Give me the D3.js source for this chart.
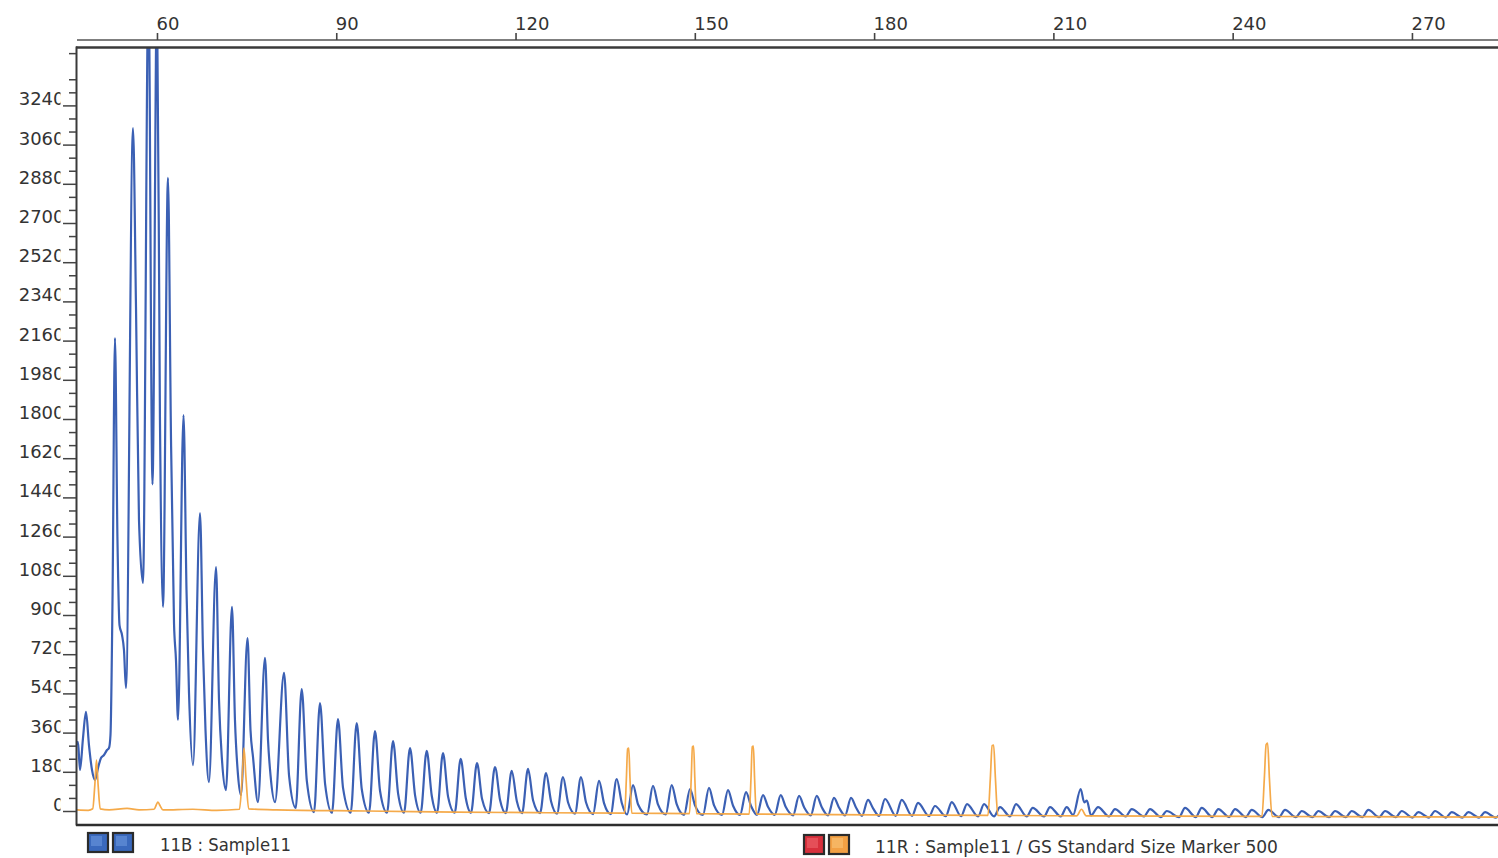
<!DOCTYPE html>
<html>
<head>
<meta charset="utf-8">
<script src="https://cdn.jsdelivr.net/npm/d3@7"></script>
<style>
  body { margin: 0; background: #fff; }
  svg { display: block; }
</style>
</head>
<body>
<svg id="chart" width="1498" height="858"></svg>
<script>
// Size axis (bp) and RFU ticks
const xTicks = [60, 90, 120, 150, 180, 210, 240, 270];
const yTicks = [0, 180, 360, 540, 720, 900, 1080, 1260, 1440, 1620, 1800, 1980, 2160, 2340, 2520, 2700, 2880, 3060, 3240];

const legendLabels = ["11B : Sample11", "11R : Sample11 / GS Standard Size Marker 500"];

// Blue dye trace, [size bp, rfu]
const blueTrace = [
  [46.45,303],[46.78,317],[47.12,188],[47.62,335],[48.12,455],[48.62,303],[49.13,188],[49.63,142],
  [50.13,197],[50.63,243],[51.13,257],[51.64,280],[51.97,289],[52.22,349],[52.56,969],[52.97,2172],
  [53.39,1244],[53.73,854],[54.15,808],[54.48,739],[54.81,565],
  [55.99,3136],[56.49,2314],[56.99,1336],[57.66,1047],[58.58,3798],[59.25,1500],[60.00,3770],
  [60.50,1795],[61.01,937],
  [61.84,2907],[62.35,1704],[62.85,863],[63.18,693],[63.52,418],
  [64.44,1818],[64.94,1015],[65.36,542],[66.03,211],
  [67.20,1368],[67.70,739],[68.12,372],[68.70,133],
  [69.88,1120],[70.38,510],[70.88,234],[71.55,96],
  [72.55,937],[73.05,418],[73.56,165],[74.06,73],
  [75.15,794],[75.65,372],[76.07,248],[76.90,41],
  [78.08,703],[78.58,326],[79.00,165],[79.75,41],
  [81.26,634],[82.11,160],[83.22,14],
  [84.22,560],[85.07,140],[86.28,-5],
  [87.28,496],[88.13,125],[89.29,-8],
  [90.29,422],[91.14,105],[92.42,-8],
  [93.42,404],[94.27,100],[95.48,-8],
  [96.48,367],[97.33,92],[98.50,-8],
  [99.50,321],[100.35,80],[101.34,-8],
  [102.34,289],[103.19,72],[104.13,-8],
  [105.13,276],[105.98,70],[106.86,-8],
  [107.86,266],[108.71,66],[109.82,-8],
  [110.82,239],[111.67,60],[112.55,-8],
  [113.55,220],[114.40,55],[115.56,-10],
  [116.56,202],[117.41,50],[118.36,-10],
  [119.36,184],[120.21,46],[121.09,-10],
  [122.09,193],[122.94,48],[124.10,-10],
  [125.10,174],[125.95,44],[126.94,-12],
  [127.94,156],[128.79,39],[129.95,-12],
  [130.95,156],[131.80,39],[132.97,-14],
  [133.97,138],[134.82,35],[135.93,-14],
  [136.93,147],[137.78,37],[138.66,-16],
  [139.66,119],[140.51,30],[142.00,-16],
  [143.00,115],[143.85,29],[145.13,-16],
  [146.13,119],[146.98,30],[148.20,-18],
  [149.20,101],[150.05,25],[151.37,-18],
  [152.37,106],[153.22,26],[154.55,-18],
  [155.55,96],[156.40,24],[157.57,-18],
  [158.57,87],[159.42,22],[160.41,-18],
  [161.41,73],[162.26,18],[163.37,-18],
  [164.37,73],[165.22,18],[166.44,-20],
  [167.44,69],[168.29,17],[169.40,-20],
  [170.40,69],[171.25,17],[172.29,-20],
  [173.29,60],[174.14,15],[175.14,-20],
  [176.14,60],[176.99,15],[177.98,-22],
  [178.98,51],[179.83,12],[180.83,-22],
  [181.83,55],[183.62,-22],
  [184.62,51],[186.35,-22],
  [187.35,37],[189.19,-24],
  [190.19,23],[191.99,-24],
  [192.99,41],[194.55,-24],
  [195.55,32],[197.40,-25],
  [198.40,32],[200.07,-25],
  [201.07,18],[202.75,-25],
  [203.75,32],[205.54,-25],
  [206.54,14],[208.44,-25],
  [209.44,18],[211.23,-25],
  [212.23,18],[213.30,-18],
  [214.57,101],[215.15,40],[215.60,48],[216.30,-20],
  [217.47,18],[219.31,-25],
  [220.31,9],[222.11,-25],
  [223.11,9],[225.17,-25],
  [226.17,9],[227.97,-28],
  [228.97,0],[231.03,-28],
  [232.03,14],[233.82,-28],
  [234.82,14],[236.60,-28],
  [237.60,9],[239.40,-28],
  [240.40,9],[242.19,-28],
  [243.19,5],[244.97,-28],
  [245.97,5],[247.76,-28],
  [248.76,5],[250.56,-28],
  [251.56,0],[253.34,-28],
  [254.34,0],[256.13,-28],
  [257.13,0],[258.92,-28],
  [259.92,0],[261.70,-28],
  [262.70,5],[264.50,-28],
  [265.50,0],[267.29,-28],
  [268.29,0],[270.07,-30],
  [271.07,-5],[272.86,-30],
  [273.86,0],[275.66,-30],
  [276.66,-5],[278.44,-30],
  [279.44,-5],[281.23,-30],
  [282.23,-5],[284.00,-30],[285.00,-5]
];

// Orange size-standard trace, [size bp, rfu]
const orangeTrace = [
  [46.45,5],[48.5,3],[49.25,10],[49.6,120],[49.88,234],[50.15,120],[50.5,10],[52,5],[55,12],[57,5],
  [59.5,8],[60.0,35],[60.17,41],[60.5,25],[61,5],[66,8],[70,3],[73.8,8],[74.25,150],[74.56,289],
  [74.9,150],[75.35,10],[80,5],[95,0],[110,-5],[125,-8],
  [138.25,-10],[138.55,150],[138.75,285],[138.95,289],[139.15,150],[139.45,-10],
  [149.1,-12],[149.4,150],[149.6,295],[149.8,298],[150.0,150],[150.3,-12],
  [159.1,-14],[159.4,150],[159.6,295],[159.8,298],[160.0,150],[160.3,-14],
  [180,-18],[199.05,-20],[199.45,150],[199.75,300],[200.0,303],[200.3,150],[200.7,-20],
  [213.9,-22],[214.7,8],[215.5,-22],
  [244.9,-25],[245.3,150],[245.6,305],[245.85,312],[246.15,150],[246.6,-25],
  [284.4,-28]
];

const svg = d3.select("#chart");
const font = "'DejaVu Sans', Verdana, sans-serif";

const x = d3.scaleLinear().domain([46.45, 284.4]).range([76, 1498]);
const y = d3.scaleLinear().domain([0, 3240]).range([811, 105.4]);

const plotLeft = 77, plotTop = 48, plotBottom = 824, plotRight = 1498;

svg.append("clipPath").attr("id", "plotClip")
  .append("rect")
  .attr("x", plotLeft).attr("y", plotTop)
  .attr("width", plotRight - plotLeft).attr("height", plotBottom - plotTop);

// the RFU labels are cut off on the right ("324C"), clip them the same way
svg.append("clipPath").attr("id", "labelClip")
  .append("rect")
  .attr("x", 0).attr("y", 0).attr("width", 60.5).attr("height", 858);

// Traces
const line = d3.line()
  .x(function(d) { return x(d[0]); })
  .y(function(d) { return y(d[1]); })
  .curve(d3.curveMonotoneX);

let traces = svg.append("g").attr("clip-path", "url(#plotClip)");
traces.append("path")
  .datum(blueTrace)
  .attr("d", line)
  .attr("fill", "none")
  .attr("stroke", "#3b60b4")
  .attr("stroke-width", 2.2)
  .attr("stroke-linejoin", "round");
traces.append("path")
  .datum(orangeTrace)
  .attr("d", line)
  .attr("fill", "none")
  .attr("stroke", "#f4a540")
  .attr("stroke-width", 1.7)
  .attr("stroke-linejoin", "round")
  .attr("opacity", 0.95);

// Frame
svg.append("line")
  .attr("x1", 76.5).attr("x2", 76.5).attr("y1", 46.5).attr("y2", 825.5)
  .attr("stroke", "#3a3a3a").attr("stroke-width", 2);
svg.append("line")
  .attr("x1", 76).attr("x2", 1498).attr("y1", 47.5).attr("y2", 47.5)
  .attr("stroke", "#3a3a3a").attr("stroke-width", 2.5);
svg.append("line")
  .attr("x1", 76).attr("x2", 1498).attr("y1", 825).attr("y2", 825)
  .attr("stroke", "#2e2e2e").attr("stroke-width", 2.5);

// Top size axis
svg.append("line")
  .attr("x1", 77).attr("x2", 1498).attr("y1", 40).attr("y2", 40)
  .attr("stroke", "#555").attr("stroke-width", 1.6);
let topAxis = svg.append("g")
  .attr("transform", "translate(0,40)")
  .call(d3.axisTop(x).tickValues(xTicks).tickSize(7).tickPadding(3).tickSizeOuter(0));
topAxis.select(".domain").remove();
topAxis.attr("font-family", null).attr("font-size", null);
topAxis.selectAll("line").attr("stroke", "#444").attr("stroke-width", 1.6);
topAxis.selectAll("text")
  .attr("text-anchor", "start")
  .attr("x", -1)
  .style("font-family", font)
  .style("font-size", "18px")
  .attr("fill", "#333");

// Left RFU axis: minor ticks every 60, major every 180
let minorValues = d3.range(60, 3500, 60).filter(function(v) { return v % 180 !== 0; });
let yMinor = svg.append("g")
  .attr("transform", "translate(76,0)")
  .call(d3.axisLeft(y).tickValues(minorValues).tickSize(7).tickFormat(""));
yMinor.select(".domain").remove();
yMinor.selectAll("line").attr("stroke", "#444").attr("stroke-width", 1.5);

let yMajor = svg.append("g")
  .attr("transform", "translate(76,0)")
  .call(d3.axisLeft(y).tickValues(yTicks).tickSize(13).tickFormat(""));
yMajor.select(".domain").remove();
yMajor.selectAll("line").attr("stroke", "#444").attr("stroke-width", 1.5);

svg.append("g")
  .attr("clip-path", "url(#labelClip)")
  .selectAll("text")
  .data(yTicks)
  .enter()
  .append("text")
    .attr("x", 64.5)
    .attr("y", function(d) { return y(d); })
    .attr("text-anchor", "end")
    .style("font-family", font)
    .style("font-size", "18px")
    .attr("fill", "#333")
    .text(function(d) { return d; });

// Legend
function dyeBox(x0, y0, fill, light) {
  svg.append("rect")
    .attr("x", x0).attr("y", y0).attr("width", 20).attr("height", 19)
    .attr("fill", fill).attr("stroke", "#2b2b2b").attr("stroke-width", 2.2);
  svg.append("rect")
    .attr("x", x0 + 3).attr("y", y0 + 3).attr("width", 11).attr("height", 10)
    .attr("fill", light).attr("opacity", 0.55);
}
dyeBox(88, 833, "#3a69bd", "#6f9be0");
dyeBox(113, 833, "#3a69bd", "#6f9be0");
dyeBox(804, 835, "#d8303c", "#f06a70");
dyeBox(829, 835, "#f2a044", "#f9c77c");

svg.append("text")
  .attr("x", 160).attr("y", 851)
  .attr("textLength", 131).attr("lengthAdjust", "spacingAndGlyphs")
  .style("font-family", font).style("font-size", "18px")
  .attr("fill", "#333")
  .text(legendLabels[0]);
svg.append("text")
  .attr("x", 875).attr("y", 853)
  .attr("textLength", 403).attr("lengthAdjust", "spacingAndGlyphs")
  .style("font-family", font).style("font-size", "18px")
  .attr("fill", "#333")
  .text(legendLabels[1]);
</script>
</body>
</html>
